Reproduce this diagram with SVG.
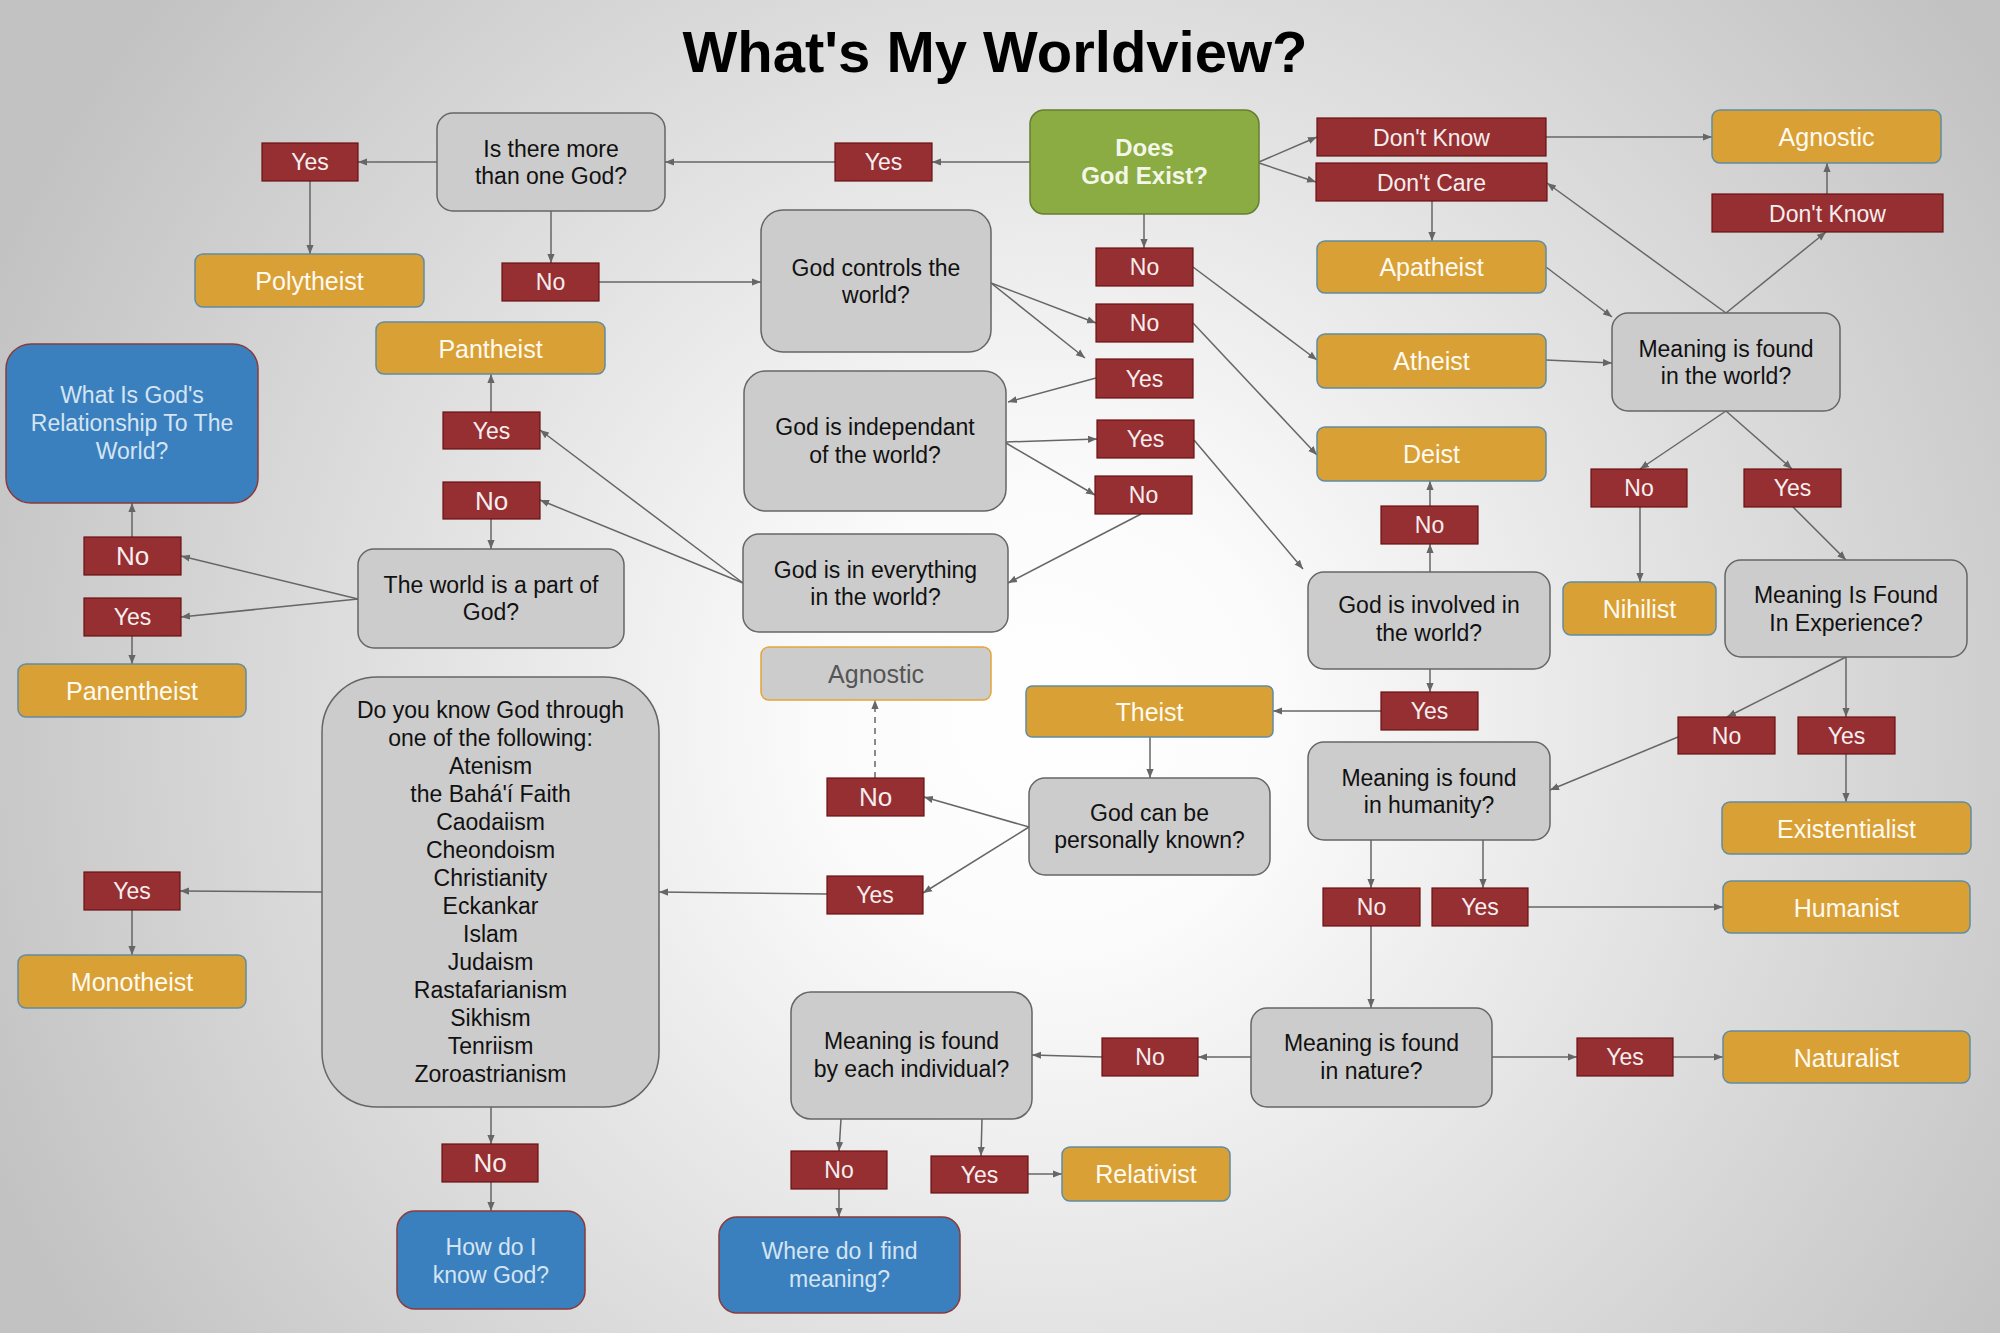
<svg xmlns="http://www.w3.org/2000/svg" width="2000" height="1333" viewBox="0 0 2000 1333">
<defs>
<radialGradient id="bg" gradientUnits="userSpaceOnUse" cx="1050" cy="720" r="1150">
<stop offset="0" stop-color="#ffffff"/>
<stop offset="0.2" stop-color="#fbfbfb"/>
<stop offset="1" stop-color="#c2c2c2"/>
</radialGradient>
<marker id="ah" viewBox="0 0 10 10" refX="10" refY="5" markerWidth="9" markerHeight="9" markerUnits="userSpaceOnUse" orient="auto">
<path d="M0,1 L10,5 L0,9 z" fill="#666"/>
</marker>
</defs>
<style>
text{font-family:"Liberation Sans",Arial,sans-serif;text-anchor:middle}
.q rect{fill:#cccccc;stroke:#666;stroke-width:1.5}
.q text{fill:#111;font-size:23px}
.l rect{fill:#962f32;stroke:#6a1212;stroke-width:1.2}
.l text{fill:#f6eeee;font-size:23px}
.l text.big{font-size:26px}
.r rect{fill:#d9a036;stroke:#5f8ca3;stroke-width:1.5}
.r text{fill:#fffaf0;font-size:25px}
.b rect{fill:#3a80bf;stroke:#8b3a3a;stroke-width:1.5}
.b text{fill:#d5e4f2;font-size:23px}
.g rect{fill:#8aac43;stroke:#667f33;stroke-width:1.5}
.g text{fill:#f4f6e8;font-size:24px;font-weight:bold}
.a rect{fill:#cccccc;stroke:#e3a43a;stroke-width:1.5}
.a text{fill:#555;font-size:25px}
#connectors path{fill:none;stroke:#666;stroke-width:1.5;marker-end:url(#ah)}
#connectors path.d{stroke-dasharray:6,5}
</style>
<rect x="0" y="0" width="2000" height="1333" fill="url(#bg)"/>
<text x="995" y="72" style="font-size:58px;font-weight:bold;fill:#000">What's My Worldview?</text>

<g id="connectors">
<path d="M1030,162 L932,162"/>
<path d="M835,162 L665,162"/>
<path d="M437,162 L358,162"/>
<path d="M310,181 L310,254"/>
<path d="M551,211 L551,263"/>
<path d="M599,282 L761,282"/>
<path d="M991,283 L1096,323"/>
<path d="M991,283 L1085,358"/>
<path d="M1096,378 L1008,402"/>
<path d="M1006,442 L1097,439"/>
<path d="M1006,443 L1095,495"/>
<path d="M1141,514 L1008,583"/>
<path d="M1194,440 L1303,569"/>
<path d="M1144,214 L1144,248"/>
<path d="M1193,267 L1317,360"/>
<path d="M1193,323 L1317,455"/>
<path d="M1259,162 L1317,137"/>
<path d="M1259,163 L1316,182"/>
<path d="M1546,137 L1712,137"/>
<path d="M1432,201 L1432,241"/>
<path d="M1546,267 L1612,317"/>
<path d="M1546,360 L1612,363"/>
<path d="M1726,313 L1547,183"/>
<path d="M1726,313 L1826,232"/>
<path d="M1827,194 L1827,163"/>
<path d="M1726,411 L1640,469"/>
<path d="M1726,411 L1792,469"/>
<path d="M1640,507 L1640,582"/>
<path d="M1793,507 L1846,560"/>
<path d="M1430,572 L1430,544"/>
<path d="M1430,506 L1430,481"/>
<path d="M1430,669 L1430,692"/>
<path d="M1381,711 L1273,711"/>
<path d="M1150,737 L1150,778"/>
<path d="M1846,657 L1727,717"/>
<path d="M1846,657 L1846,717"/>
<path d="M1846,754 L1846,802"/>
<path d="M1678,737 L1550,790"/>
<path d="M1371,840 L1371,888"/>
<path d="M1483,840 L1483,888"/>
<path d="M1528,907 L1723,907"/>
<path d="M1371,926 L1371,1008"/>
<path d="M1251,1057 L1198,1057"/>
<path d="M1102,1057 L1032,1055"/>
<path d="M1492,1057 L1577,1057"/>
<path d="M1673,1057 L1723,1057"/>
<path d="M841,1119 L839,1151"/>
<path d="M982,1119 L981,1156"/>
<path d="M839,1189 L839,1217"/>
<path d="M1028,1174 L1062,1174"/>
<path d="M1029,827 L924,797"/>
<path d="M1029,827 L923,893"/>
<path d="M827,894 L659,892"/>
<path class="d" d="M875,778 L875,700"/>
<path d="M322,892 L180,891"/>
<path d="M132,910 L132,955"/>
<path d="M491,1107 L491,1144"/>
<path d="M491,1182 L491,1211"/>
<path d="M743,583 L540,430"/>
<path d="M743,583 L540,500"/>
<path d="M491,412 L491,374"/>
<path d="M491,519 L491,549"/>
<path d="M358,599 L181,556"/>
<path d="M358,599 L181,617"/>
<path d="M132,537 L132,503"/>
<path d="M132,636 L132,664"/>
</g>

<g id="n_does" class="g"><rect x="1030" y="110" width="229" height="104" rx="14"/><text x="1144.5" y="156">Does</text><text x="1144.5" y="184">God Exist?</text></g>
<g id="n_yes_top" class="l"><rect x="835" y="143" width="97" height="38"/><text x="883.5" y="170">Yes</text></g>
<g id="n_more" class="q"><rect x="437" y="113" width="228" height="98" rx="16"/><text x="551" y="157">Is there more</text><text x="551" y="184">than one God?</text></g>
<g id="n_yes_poly" class="l"><rect x="262" y="143" width="96" height="38"/><text x="310" y="170">Yes</text></g>
<g id="n_poly" class="r"><rect x="195" y="254" width="229" height="53" rx="8"/><text x="309.5" y="290">Polytheist</text></g>
<g id="n_no_more" class="l"><rect x="502" y="263" width="97" height="38"/><text x="550.5" y="290">No</text></g>
<g id="n_controls" class="q"><rect x="761" y="210" width="230" height="142" rx="22"/><text x="876" y="276">God controls the</text><text x="876" y="303">world?</text></g>
<g id="n_no1" class="l"><rect x="1096" y="248" width="97" height="38"/><text x="1144.5" y="275">No</text></g>
<g id="n_no2" class="l"><rect x="1096" y="304" width="97" height="38"/><text x="1144.5" y="331">No</text></g>
<g id="n_yes3" class="l"><rect x="1096" y="359" width="97" height="39"/><text x="1144.5" y="387">Yes</text></g>
<g id="n_indep" class="q"><rect x="744" y="371" width="262" height="140" rx="22"/><text x="875" y="435">God is independant</text><text x="875" y="463">of the world?</text></g>
<g id="n_yes4" class="l"><rect x="1097" y="420" width="97" height="38"/><text x="1145.5" y="447">Yes</text></g>
<g id="n_no5" class="l"><rect x="1095" y="476" width="97" height="38"/><text x="1143.5" y="503">No</text></g>
<g id="n_everything" class="q"><rect x="743" y="534" width="265" height="98" rx="16"/><text x="875.5" y="578">God is in everything</text><text x="875.5" y="605">in the world?</text></g>
<g id="n_agn_gray" class="a"><rect x="761" y="647" width="230" height="53" rx="8"/><text x="876" y="683">Agnostic</text></g>
<g id="n_theist" class="r"><rect x="1026" y="686" width="247" height="51" rx="6"/><text x="1149.5" y="721">Theist</text></g>
<g id="n_known" class="q"><rect x="1029" y="778" width="241" height="97" rx="16"/><text x="1149.5" y="821">God can be</text><text x="1149.5" y="848">personally known?</text></g>
<g id="n_no_agn" class="l"><rect x="827" y="778" width="97" height="38"/><text class="big" x="875.5" y="806">No</text></g>
<g id="n_yes_known" class="l"><rect x="827" y="876" width="96" height="38"/><text x="875" y="903">Yes</text></g>
<g id="n_dontknow" class="l"><rect x="1317" y="118" width="229" height="38"/><text x="1431.5" y="146">Don't Know</text></g>
<g id="n_dontcare" class="l"><rect x="1316" y="163" width="231" height="38"/><text x="1431.5" y="191">Don't Care</text></g>
<g id="n_agn_top" class="r"><rect x="1712" y="110" width="229" height="53" rx="8"/><text x="1826.5" y="146">Agnostic</text></g>
<g id="n_dontknow2" class="l"><rect x="1712" y="194" width="231" height="38"/><text x="1827.5" y="222">Don't Know</text></g>
<g id="n_apath" class="r"><rect x="1317" y="241" width="229" height="52" rx="8"/><text x="1431.5" y="276">Apatheist</text></g>
<g id="n_world" class="q"><rect x="1612" y="313" width="228" height="98" rx="16"/><text x="1726" y="357">Meaning is found</text><text x="1726" y="384">in the world?</text></g>
<g id="n_atheist" class="r"><rect x="1317" y="334" width="229" height="54" rx="8"/><text x="1431.5" y="370">Atheist</text></g>
<g id="n_deist" class="r"><rect x="1317" y="427" width="229" height="54" rx="8"/><text x="1431.5" y="463">Deist</text></g>
<g id="n_no_nih" class="l"><rect x="1591" y="469" width="96" height="38"/><text x="1639" y="496">No</text></g>
<g id="n_yes_world" class="l"><rect x="1744" y="469" width="97" height="38"/><text x="1792.5" y="496">Yes</text></g>
<g id="n_no_deist" class="l"><rect x="1381" y="506" width="97" height="38"/><text x="1429.5" y="533">No</text></g>
<g id="n_involved" class="q"><rect x="1308" y="572" width="242" height="97" rx="16"/><text x="1429" y="613">God is involved in</text><text x="1429" y="641">the world?</text></g>
<g id="n_nihilist" class="r"><rect x="1563" y="582" width="153" height="53" rx="8"/><text x="1639.5" y="618">Nihilist</text></g>
<g id="n_exp" class="q"><rect x="1725" y="560" width="242" height="97" rx="16"/><text x="1846" y="603">Meaning Is Found</text><text x="1846" y="631">In Experience?</text></g>
<g id="n_yes_theist" class="l"><rect x="1381" y="692" width="97" height="38"/><text x="1429.5" y="719">Yes</text></g>
<g id="n_no_exp" class="l"><rect x="1678" y="717" width="97" height="37"/><text x="1726.5" y="744">No</text></g>
<g id="n_yes_exp" class="l"><rect x="1798" y="717" width="97" height="37"/><text x="1846.5" y="744">Yes</text></g>
<g id="n_humanity" class="q"><rect x="1308" y="742" width="242" height="98" rx="16"/><text x="1429" y="786">Meaning is found</text><text x="1429" y="813">in humanity?</text></g>
<g id="n_existential" class="r"><rect x="1722" y="802" width="249" height="52" rx="8"/><text x="1846.5" y="838">Existentialist</text></g>
<g id="n_no_h" class="l"><rect x="1323" y="888" width="97" height="38"/><text x="1371.5" y="915">No</text></g>
<g id="n_yes_h" class="l"><rect x="1432" y="888" width="96" height="38"/><text x="1480" y="915">Yes</text></g>
<g id="n_humanist" class="r"><rect x="1723" y="881" width="247" height="52" rx="8"/><text x="1846.5" y="917">Humanist</text></g>
<g id="n_nature" class="q"><rect x="1251" y="1008" width="241" height="99" rx="16"/><text x="1371.5" y="1051">Meaning is found</text><text x="1371.5" y="1079">in nature?</text></g>
<g id="n_no_nat" class="l"><rect x="1102" y="1038" width="96" height="38"/><text x="1150" y="1065">No</text></g>
<g id="n_yes_nat" class="l"><rect x="1577" y="1038" width="96" height="38"/><text x="1625" y="1065">Yes</text></g>
<g id="n_naturalist" class="r"><rect x="1723" y="1031" width="247" height="52" rx="8"/><text x="1846.5" y="1067">Naturalist</text></g>
<g id="n_indiv" class="q"><rect x="791" y="992" width="241" height="127" rx="20"/><text x="911.5" y="1049">Meaning is found</text><text x="911.5" y="1077">by each individual?</text></g>
<g id="n_no_ind" class="l"><rect x="791" y="1151" width="96" height="38"/><text x="839" y="1178">No</text></g>
<g id="n_yes_ind" class="l"><rect x="931" y="1156" width="97" height="37"/><text x="979.5" y="1183">Yes</text></g>
<g id="n_relativist" class="r"><rect x="1062" y="1147" width="168" height="54" rx="8"/><text x="1146" y="1183">Relativist</text></g>
<g id="n_where" class="b"><rect x="719" y="1217" width="241" height="96" rx="18"/><text x="839.5" y="1259">Where do I find</text><text x="839.5" y="1287">meaning?</text></g>
<g id="n_howknow" class="b"><rect x="397" y="1211" width="188" height="98" rx="18"/><text x="491" y="1255">How do I</text><text x="491" y="1283">know God?</text></g>
<g id="n_no_how" class="l"><rect x="442" y="1144" width="96" height="38"/><text class="big" x="490" y="1172">No</text></g>
<g id="n_doyou" class="q"><rect x="322" y="677" width="337" height="430" rx="55"/>
<text x="490.5" y="718">Do you know God through</text>
<text x="490.5" y="746">one of the following:</text>
<text x="490.5" y="774">Atenism</text>
<text x="490.5" y="802">the Bahá'í Faith</text>
<text x="490.5" y="830">Caodaiism</text>
<text x="490.5" y="858">Cheondoism</text>
<text x="490.5" y="886">Christianity</text>
<text x="490.5" y="914">Eckankar</text>
<text x="490.5" y="942">Islam</text>
<text x="490.5" y="970">Judaism</text>
<text x="490.5" y="998">Rastafarianism</text>
<text x="490.5" y="1026">Sikhism</text>
<text x="490.5" y="1054">Tenriism</text>
<text x="490.5" y="1082">Zoroastrianism</text>
</g>
<g id="n_yes_mono" class="l"><rect x="84" y="872" width="96" height="38"/><text x="132" y="899">Yes</text></g>
<g id="n_mono" class="r"><rect x="18" y="955" width="228" height="53" rx="8"/><text x="132" y="991">Monotheist</text></g>
<g id="n_whatis" class="b"><rect x="6" y="344" width="252" height="159" rx="25"/><text x="132" y="403">What Is God's</text><text x="132" y="431">Relationship To The</text><text x="132" y="459">World?</text></g>
<g id="n_no_left" class="l"><rect x="84" y="537" width="97" height="38"/><text class="big" x="132.5" y="565">No</text></g>
<g id="n_yes_left" class="l"><rect x="84" y="598" width="97" height="38"/><text x="132.5" y="625">Yes</text></g>
<g id="n_panen" class="r"><rect x="18" y="664" width="228" height="53" rx="8"/><text x="132" y="700">Panentheist</text></g>
<g id="n_pantheist" class="r"><rect x="376" y="322" width="229" height="52" rx="8"/><text x="490.5" y="358">Pantheist</text></g>
<g id="n_yes_pan" class="l"><rect x="443" y="412" width="97" height="37"/><text x="491.5" y="439">Yes</text></g>
<g id="n_no_mid" class="l"><rect x="443" y="482" width="97" height="37"/><text class="big" x="491.5" y="510">No</text></g>
<g id="n_partof" class="q"><rect x="358" y="549" width="266" height="99" rx="16"/><text x="491" y="593">The world is a part of</text><text x="491" y="620">God?</text></g>
</svg>
